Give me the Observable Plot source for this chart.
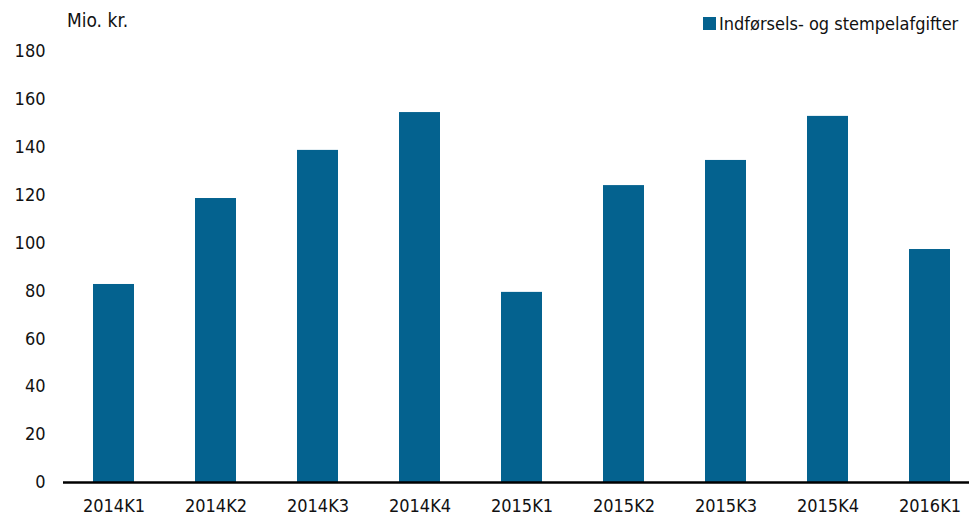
<!DOCTYPE html>
<html>
<head>
<meta charset="utf-8">
<script src="https://cdn.jsdelivr.net/npm/d3@7"></script>
<script src="https://cdn.jsdelivr.net/npm/@observablehq/plot@0.6"></script>
<style>
  html, body { margin: 0; padding: 0; background: #fff; }
  body { width: 969px; height: 517px; overflow: hidden; font-family: "DejaVu Sans Condensed", "DejaVu Sans", sans-serif; }
  #header { position: relative; height: 40px; color: #111; font-size: 18px; }
  #unit { position: absolute; left: 67px; top: 9px; font-size: 19px; }
  #legend { position: absolute; left: 703px; top: 13px; display: flex; align-items: center; white-space: nowrap; }
  #legend .sw { width: 13px; height: 13px; background: #04628f; margin-right: 3px; }
  #chart svg { display: block; }
</style>
</head>
<body>
<div id="header">
  <div id="unit">Mio. kr.</div>
  <div id="legend"><span class="sw"></span><span id="legtext"></span></div>
</div>
<div id="chart"></div>
<script>
const categories = ["2014K1","2014K2","2014K3","2014K4","2015K1","2015K2","2015K3","2015K4","2016K1"];
const values = [82.7, 118.6, 138.7, 154.5, 79.4, 124.0, 134.5, 152.9, 97.3];
const seriesName = "Indførsels- og stempelafgifter";
const yTicks = [0, 20, 40, 60, 80, 100, 120, 140, 160, 180];
const unitLabel = "Mio. kr.";

document.getElementById("legtext").textContent = seriesName;
document.getElementById("unit").textContent = unitLabel;

const data = categories.map((c, i) => ({cat: c, value: values[i]}));
const barColor = "#04628f";

const chart = Plot.plot({
  width: 969,
  height: 477,
  marginTop: 11,
  marginBottom: 35,
  marginLeft: 63,
  marginRight: 0,
  style: {fontFamily: "DejaVu Sans Condensed, DejaVu Sans, sans-serif", fontSize: "18px", color: "#111", background: "#fff"},
  x: {domain: categories, range: [62.5, 980.5], paddingInner: 0.6, paddingOuter: 0.3, align: 0.5, label: null},
  y: {domain: [0, 180], ticks: yTicks, label: null},
  marks: [
    Plot.ruleY(yTicks.filter(d => d > 0), {stroke: "#a0a0a0", strokeWidth: 2, x1: 63, x2: 969}),
    Plot.barY(data, {x: "cat", y: "value", fill: barColor}),
    Plot.ruleY([0], {stroke: "#000", strokeWidth: 2.5}),
    Plot.axisY({ticks: yTicks, tickSize: 0, tickPadding: 18, fontSize: 18, label: null}),
    Plot.axisX({tickSize: 0, tickPadding: 17, fontSize: 18, label: null})
  ]
});
document.getElementById("chart").appendChild(chart);
</script>
</body>
</html>
